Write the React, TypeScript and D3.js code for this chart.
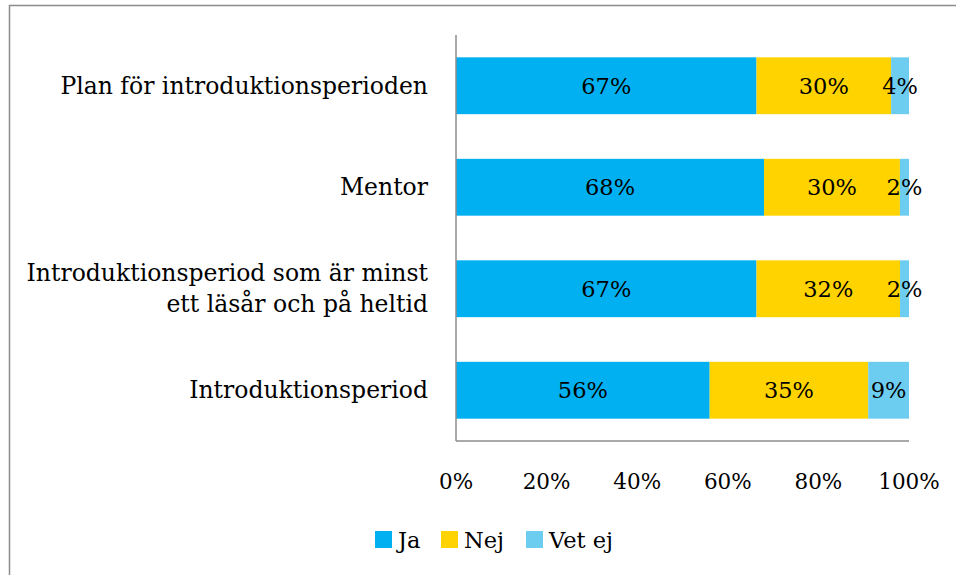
import React from "react";
import * as d3 from "d3";

const categories = [
  ["Plan för introduktionsperioden"],
  ["Mentor"],
  ["Introduktionsperiod som är minst", "ett läsår och på heltid"],
  ["Introduktionsperiod"],
];
const seriesNames = ["Ja", "Nej", "Vet ej"];
const jaValues = [67, 68, 67, 56];
const nejValues = [30, 30, 32, 35];
const vetEjValues = [4, 2, 2, 9];
const tickValues = [0, 20, 40, 60, 80, 100];
const colors = ["#00B0F0", "#FFD300", "#6DCDF0"];

const W = 956;
const H = 575;
const FONT = "DejaVu Serif";

export default function App() {
  const x = d3.scaleLinear().domain([0, 100]).range([456, 909]);
  const y = d3
    .scaleBand<number>()
    .domain(d3.range(categories.length))
    .range([35, 441])
    .paddingInner(0.44)
    .paddingOuter(0.22);

  const rows = categories.map((c, i) => {
    const vals = [jaValues[i], nejValues[i], vetEjValues[i]];
    const total = d3.sum(vals);
    const stackIn = [{ Ja: vals[0] / total * 100, Nej: vals[1] / total * 100, "Vet ej": vals[2] / total * 100 }];
    const st = d3.stack<any>().keys(seriesNames)(stackIn);
    return { c, vals, segs: st.map((s) => [s[0][0], s[0][1]]) };
  });

  const legendX = [375, 441, 526];

  return (
    <svg width={W} height={H} style={{ position: "absolute", left: 0, top: 0 }}>
      <rect x={0} y={0} width={W} height={H} fill="#fff" />
      <rect x={9.5} y={5.5} width={W} height={H} fill="none" stroke="#8c8c8c" strokeWidth={1.5} />
      {rows.map((r, i) => (
        <g key={i}>
          {r.segs.map((s, j) => (
            <rect
              key={j}
              x={x(s[0])}
              y={y(i)}
              width={x(s[1]) - x(s[0])}
              height={y.bandwidth()}
              fill={colors[j]}
            />
          ))}
          {r.segs.map((s, j) => (
            <text
              key={"t" + j}
              x={(x(s[0]) + x(s[1])) / 2}
              y={y(i)! + y.bandwidth() / 2}
              dy="0.35em"
              textAnchor="middle"
              fontFamily={FONT}
              fontSize={22.5}
              fill="#000"
            >
              {r.vals[j]}%
            </text>
          ))}
          {r.c.map((line, k) => (
            <text
              key={"c" + k}
              x={428}
              y={y(i)! + y.bandwidth() / 2 + (k - (r.c.length - 1) / 2) * 31}
              dy="0.35em"
              textAnchor="end"
              fontFamily={FONT}
              fontSize={23.5}
              fill="#000"
            >
              {line}
            </text>
          ))}
        </g>
      ))}
      <line x1={456} x2={456} y1={35} y2={441} stroke="#8c8c8c" strokeWidth={1.5} />
      <line x1={456} x2={909} y1={441} y2={441} stroke="#8c8c8c" strokeWidth={1.5} />
      {tickValues.map((t) => (
        <text
          key={t}
          x={x(t)}
          y={481}
          dy="0.35em"
          textAnchor="middle"
          fontFamily={FONT}
          fontSize={21.5}
          fill="#000"
        >
          {t}%
        </text>
      ))}
      {seriesNames.map((n, j) => (
        <g key={n}>
          <rect x={legendX[j]} y={531} width={17} height={17} fill={colors[j]} />
          <text x={legendX[j] + 23} y={540} dy="0.35em" fontFamily={FONT} fontSize={22.5} fill="#000">
            {n}
          </text>
        </g>
      ))}
    </svg>
  );
}
